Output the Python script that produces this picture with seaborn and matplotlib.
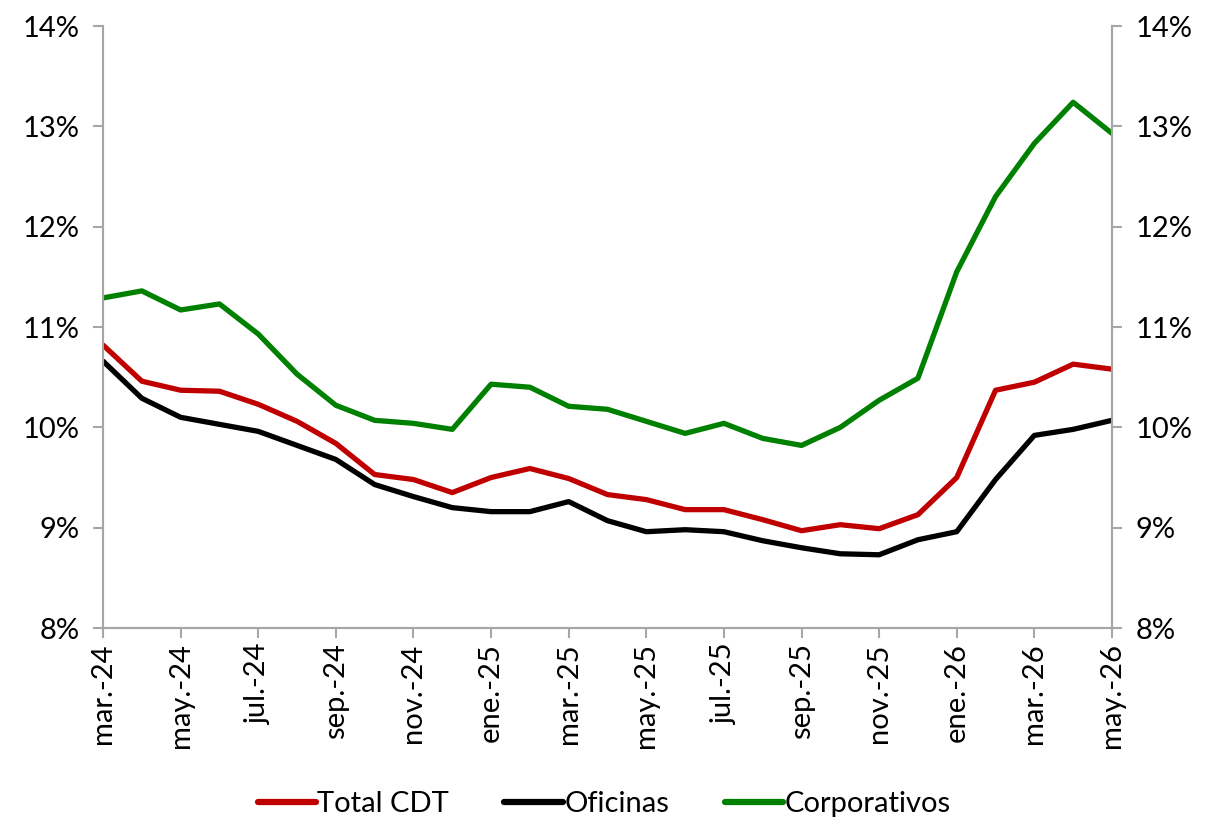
import numpy as np
import pandas as pd
import matplotlib
matplotlib.use("Agg")
import matplotlib.pyplot as plt
import seaborn as sns
from matplotlib.ticker import FuncFormatter

# === Data ===
months = ["mar.-24", "abr.-24", "may.-24", "jun.-24", "jul.-24", "ago.-24", "sep.-24",
          "oct.-24", "nov.-24", "dic.-24", "ene.-25", "feb.-25", "mar.-25", "abr.-25",
          "may.-25", "jun.-25", "jul.-25", "ago.-25", "sep.-25", "oct.-25", "nov.-25",
          "dic.-25", "ene.-26", "feb.-26", "mar.-26", "abr.-26", "may.-26"]

total_cdt = [10.82, 10.46, 10.37, 10.36, 10.23, 10.06, 9.84, 9.53, 9.48, 9.35,
             9.50, 9.59, 9.49, 9.33, 9.28, 9.18, 9.18, 9.08, 8.97, 9.03,
             8.99, 9.13, 9.50, 10.37, 10.45, 10.63, 10.58]

oficinas = [10.66, 10.29, 10.10, 10.03, 9.96, 9.82, 9.68, 9.43, 9.31, 9.20,
            9.16, 9.16, 9.26, 9.07, 8.96, 8.98, 8.96, 8.87, 8.80, 8.74,
            8.73, 8.88, 8.96, 9.48, 9.92, 9.98, 10.07]

corporativos = [11.29, 11.36, 11.17, 11.23, 10.93, 10.53, 10.22, 10.07, 10.04, 9.98,
                10.43, 10.40, 10.21, 10.18, 10.06, 9.94, 10.04, 9.89, 9.82, 10.00,
                10.27, 10.49, 11.55, 12.30, 12.83, 13.24, 12.93]

series_names = ["Total CDT", "Oficinas", "Corporativos"]
colors = ["#C00000", "#000000", "#008000"]

# === Long-form table ===
idx = np.arange(len(months))
df = pd.concat([
    pd.DataFrame({"i": idx, "valor": vals, "serie": name})
    for name, vals in zip(series_names, [total_cdt, oficinas, corporativos])
])

# === Plot ===
sns.set_style("white")
plt.rcParams["font.family"] = ["Lato", "DejaVu Sans"]
plt.rcParams["text.color"] = "black"
plt.rcParams["xtick.color"] = "black"
plt.rcParams["ytick.color"] = "black"

fig = plt.figure(figsize=(12.08, 8.23), dpi=100)
ax = fig.add_axes([0.0853, 0.2369, 0.8352, 0.7315])

sns.lineplot(data=df, x="i", y="valor", hue="serie", hue_order=series_names,
             palette=colors, linewidth=3.8, ax=ax, legend=False)

ax.set_xlim(0, len(months) - 1)
ax.set_ylim(8, 14)
ax.set_yticks(range(8, 15))
pct = FuncFormatter(lambda v, p: f"{v:.0f}%")
ax.yaxis.set_major_formatter(pct)
ax.set_xticks(idx[::2])
ax.set_xticklabels(months[::2], rotation=90, fontsize=21)
ax.set_xlabel("")
ax.set_ylabel("")

ax2 = ax.twinx()
ax2.set_ylim(8, 14)
ax2.set_yticks(range(8, 15))
ax2.yaxis.set_major_formatter(pct)

spine_col = "#A6A6A6"
for a in (ax, ax2):
    a.spines["top"].set_visible(False)
    for s in ("left", "right", "bottom"):
        a.spines[s].set_color(spine_col)
        a.spines[s].set_linewidth(1.5)
    a.tick_params(axis="y", labelsize=21, length=7, width=1.5, color=spine_col,
                  labelcolor="black", direction="out", pad=10)
ax.tick_params(axis="y", left=True, right=False)
ax2.tick_params(axis="y", right=True, left=False)
ax.tick_params(axis="x", bottom=True, length=7, width=1.5, color=spine_col,
               labelcolor="black", direction="out", pad=4)

# === Legend ===
handles = [plt.Line2D([], [], color=c, linewidth=4.5) for c in colors]
fig.legend(handles, series_names, loc="lower center", ncol=3, frameon=False,
           fontsize=21, handlelength=2.0, handletextpad=0.05, columnspacing=1.9,
           bbox_to_anchor=(0.5, -0.025))

fig.savefig("out.png", dpi=100)
